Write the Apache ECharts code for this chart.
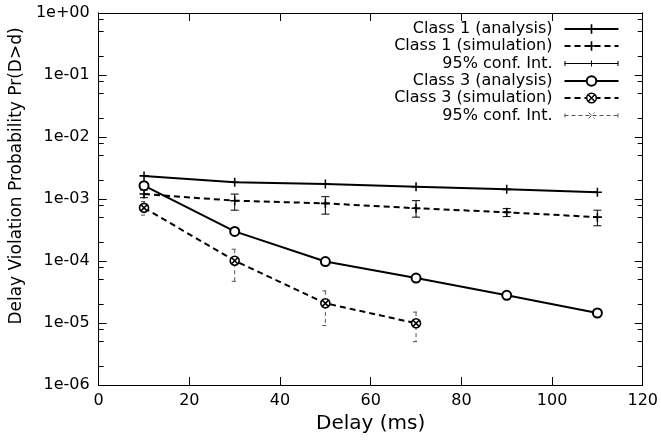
<!DOCTYPE html>
<html>
<head>
<meta charset="utf-8">
<script src="https://cdn.jsdelivr.net/npm/echarts@6/dist/echarts.min.js"></script>
<style>
  html, body { margin: 0; padding: 0; background: #fff; }
  #chart { width: 661px; height: 441px; }
</style>
</head>
<body>
<div id="chart"></div>
<script>
const delays = [10, 30, 50, 70, 90, 110];
const class1Analysis = [2.36e-3, 1.86e-3, 1.75e-3, 1.58e-3, 1.43e-3, 1.28e-3];
const class1Simulation = [1.2e-3, 9.4e-4, 8.5e-4, 7.1e-4, 6.1e-4, 5.1e-4];
const class1CiLow = [1.05e-3, 6.6e-4, 5.7e-4, 5.1e-4, 5.2e-4, 3.7e-4];
const class1CiHigh = [1.4e-3, 1.2e-3, 1.09e-3, 9.4e-4, 7.0e-4, 6.6e-4];

const class3Analysis = [1.64e-3, 3.0e-4, 9.8e-5, 5.3e-5, 2.8e-5, 1.45e-5];
const class3Delays = [10, 30, 50, 70];
const class3Simulation = [7.2e-4, 1.01e-4, 2.08e-5, 9.9e-6];
const class3CiLow = [5.5e-4, 4.7e-5, 9.1e-6, 5.0e-6];
const class3CiHigh = [9.1e-4, 1.55e-4, 3.3e-5, 1.5e-5];

const yTickValues = [1e-6, 1e-5, 1e-4, 1e-3, 1e-2, 1e-1, 1];
const yTickLabels = ['1e-06', '1e-05', '1e-04', '1e-03', '1e-02', '1e-01', '1e+00'];
const minorSteps = [2, 5, 8];

const seriesNames = ['Class 1 (analysis)', 'Class 1 (simulation)', 'Class 1 CI',
  'Class 3 (analysis)', 'Class 3 (simulation)', 'Class 3 CI'];
const ciLabel = '95% conf. Int.';
const xTitle = 'Delay (ms)';
const yTitle = 'Delay Violation Probability Pr(D>d)';

const FONT = 'DejaVu Sans';
const PLUS = 'path://M-1,-0.17H1V0.17H-1Z M-0.17,-1H0.17V1H-0.17Z';
const CIRCLE_X = 'path://M-1,0A1,1,0,1,1,1,0A1,1,0,1,1,-1,0Z M-0.62,-0.62L0.62,0.62 M-0.62,0.62L0.62,-0.62';
const CI1_ICON = 'path://M0,0L0,0.01 M54,12L54,11.99 M0.5,3.5L0.5,8.5 M0,6L54,6 M53.5,3.5L53.5,8.5 M27,3L27,9 M24,6L30,6';
const CI3_ICON = 'path://M0,0L0,0.01 M54,12L54,11.99 M0.5,4L0.5,8 M0,6L54,6 M53.5,4L53.5,8 M24,3L30,9 M24,9L30,3';

// minor ticks sit on a linear overlay axis running over log10 of the values
const decadeExponents = yTickValues.slice(0, -1).map(v => Math.round(Math.log10(v)));
const minorTickExponents = decadeExponents.flatMap(e => minorSteps.map(m => e + Math.log10(m)));

const chart = echarts.init(document.getElementById('chart'), null, { renderer: 'canvas' });

function errorBars(capHalf, style) {
  return function (params, api) {
    const x = api.value(0);
    const lo = api.coord([x, api.value(1)]);
    const hi = api.coord([x, api.value(2)]);
    return {
      type: 'group',
      children: [
        { type: 'line', shape: { x1: hi[0], y1: hi[1], x2: lo[0], y2: lo[1] }, style },
        { type: 'line', shape: { x1: hi[0] - capHalf, y1: hi[1], x2: hi[0] + capHalf, y2: hi[1] }, style },
        { type: 'line', shape: { x1: lo[0] - capHalf, y1: lo[1], x2: lo[0] + capHalf, y2: lo[1] }, style },
      ],
    };
  };
}

// onZero off: the overlay axes contain 0 and would drag the others onto it
const axisLine = { show: true, onZero: false, lineStyle: { color: '#000', width: 1 } };
const logAxisBase = {
  type: 'log', logBase: 10, min: 1e-6, max: 1,
  axisLine, splitLine: { show: false },
  axisTick: { show: true, inside: true, length: 8, lineStyle: { color: '#000' } },
};
const minorAxisBase = {
  type: 'value', min: -6, max: 0,
  axisLine, splitLine: { show: false },
  axisTick: { show: true, inside: true, length: 5, customValues: minorTickExponents, lineStyle: { color: '#000' } },
  axisLabel: { show: false, customValues: minorTickExponents },
};
const xAxisBase = {
  type: 'value', min: 0, max: 120, interval: 20,
  axisLine, splitLine: { show: false },
  axisTick: { show: true, inside: true, length: 8, lineStyle: { color: '#000' } },
};

chart.setOption({
  animation: false,
  backgroundColor: '#fff',
  grid: { left: 98, right: 16, top: 13, bottom: 56, containLabel: false },
  legend: {
    orient: 'vertical', right: 40, top: 21, align: 'right', padding: 0,
    itemWidth: 54, itemHeight: 12, itemGap: 1,
    textStyle: { fontFamily: FONT, fontSize: 16, color: '#000', padding: [0, 7, 0, 0] },
    formatter: name => (name.endsWith('CI') ? ciLabel : name),
    data: [
      seriesNames[0],
      seriesNames[1],
      { name: seriesNames[2], icon: CI1_ICON, itemStyle: { color: 'none', borderColor: '#000', borderWidth: 1 } },
      seriesNames[3],
      { name: seriesNames[4], itemStyle: { borderWidth: 1.5 } },
      { name: seriesNames[5], icon: CI3_ICON, itemStyle: { color: 'none', borderColor: '#555', borderWidth: 1, borderType: [4, 3] } },
    ],
  },
  xAxis: [
    Object.assign({}, xAxisBase, {
      position: 'bottom',
      axisLabel: { color: '#000', fontFamily: FONT, fontSize: 16, margin: 8 },
      name: xTitle, nameLocation: 'middle', nameGap: 29,
      nameTextStyle: { color: '#000', fontFamily: FONT, fontSize: 20 },
    }),
    Object.assign({}, xAxisBase, { position: 'top', axisLabel: { show: false } }),
  ],
  yAxis: [
    Object.assign({}, logAxisBase, {
      position: 'left',
      axisLabel: {
        color: '#000', fontFamily: FONT, fontSize: 16, margin: 9,
        formatter: v => yTickLabels[Math.round(Math.log10(v)) + 6],
      },
      name: yTitle, nameLocation: 'middle', nameGap: 71, nameRotate: 90,
      nameTextStyle: { color: '#000', fontFamily: FONT, fontSize: 17, padding: [0, 0, 0, 46] },
    }),
    Object.assign({}, minorAxisBase, { position: 'left' }),
    Object.assign({}, logAxisBase, { position: 'right', axisLabel: { show: false } }),
    Object.assign({}, minorAxisBase, { position: 'right' }),
  ],
  series: [
    {
      name: seriesNames[0], type: 'line', z: 3,
      data: delays.map((d, i) => [d, class1Analysis[i]]),
      symbol: PLUS, symbolSize: 9,
      itemStyle: { color: '#000' },
      lineStyle: { color: '#000', width: 2 },
      emphasis: { disabled: true },
    },
    {
      name: seriesNames[1], type: 'line', z: 3,
      data: delays.map((d, i) => [d, class1Simulation[i]]),
      symbol: PLUS, symbolSize: 9,
      itemStyle: { color: '#000' },
      lineStyle: { color: '#000', width: 2, type: [6, 4] },
      emphasis: { disabled: true },
    },
    {
      name: seriesNames[2], type: 'custom', z: 2,
      data: delays.map((d, i) => [d, class1CiLow[i], class1CiHigh[i]]),
      encode: { x: 0, y: [1, 2] },
      itemStyle: { color: '#000' },
      renderItem: errorBars(4, { stroke: '#000', lineWidth: 1, fill: null }),
    },
    {
      name: seriesNames[3], type: 'line', z: 3,
      data: delays.map((d, i) => [d, class3Analysis[i]]),
      symbol: 'emptyCircle', symbolSize: 9,
      itemStyle: { color: '#000', borderWidth: 1.6 },
      lineStyle: { color: '#000', width: 2 },
      emphasis: { disabled: true },
    },
    {
      name: seriesNames[4], type: 'line', z: 3,
      data: class3Delays.map((d, i) => [d, class3Simulation[i]]),
      symbol: CIRCLE_X, symbolSize: 9,
      itemStyle: { color: '#fff', borderColor: '#000', borderWidth: 1.6 },
      lineStyle: { color: '#000', width: 2, type: [6, 4] },
      emphasis: { disabled: true },
    },
    {
      name: seriesNames[5], type: 'custom', z: 2,
      data: class3Delays.map((d, i) => [d, class3CiLow[i], class3CiHigh[i]]),
      encode: { x: 0, y: [1, 2] },
      itemStyle: { color: '#555' },
      renderItem: errorBars(3, { stroke: '#555', lineWidth: 1, lineDash: [4, 3], fill: null }),
    },
  ],
});
</script>
</body>
</html>
